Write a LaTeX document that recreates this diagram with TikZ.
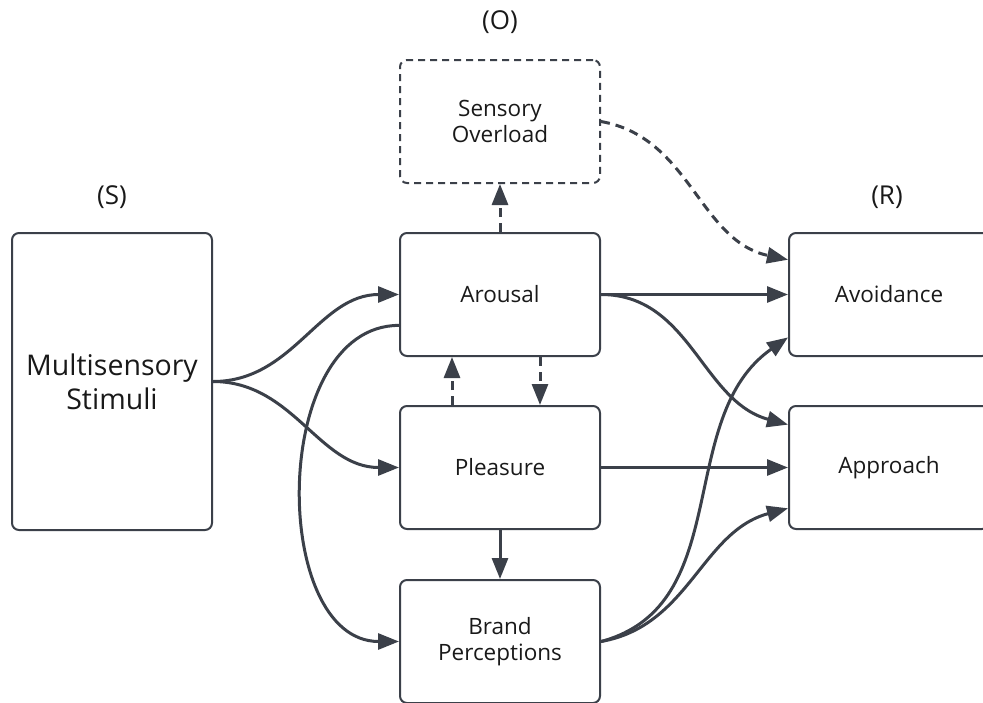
\documentclass[tikz,border=0pt]{standalone}
\usepackage{fontspec}
\setmainfont{Open Sans}
\usetikzlibrary{arrows.meta}
\definecolor{edge}{HTML}{3B4049}
\begin{document}
\begin{tikzpicture}[x=1pt, y=-1pt, >={Triangle[length=21pt,width=16pt]},
 box/.style={draw=edge, line width=2pt, rounded corners=7pt, minimum width=200pt, minimum height=123pt,
  align=center, inner sep=0pt, text=black!90, font=\fontsize{22.5}{26}\selectfont},
 dbox/.style={box, dash pattern=on 7pt off 5pt},
 conn/.style={draw=edge, line width=3pt, ->},
 dconn/.style={conn, dash pattern=on 9pt off 6pt},
 tag/.style={text=black!90, font=\fontsize{26}{30}\selectfont}]
\useasboundingbox (0,0) rectangle (983,702);
\node[tag] (tagS) at (112,197) {(S)};
\node[tag] (tagO) at (500,22) {(O)};
\node[tag] (tagR) at (887,197) {(R)};
\node[box, minimum height=297pt, font=\fontsize{28.5}{34}\selectfont] (stim) at (112,381.5) {Multisensory\\Stimuli};
\node[dbox] (over) at (500,121.5) {Sensory\\Overload};
\node[box] (arou) at (500,294.5) {Arousal};
\node[box] (plea) at (500,467.5) {Pleasure};
\node[box] (brand) at (500,641.5) {Brand\\Perceptions};
\node[box] (avoid) at (889,294.5) {Avoidance};
\node[box] (appr) at (889,467.5) {Approach};
% stimulus to organism
\draw[conn] (stim.east) to[out=0, in=180] (arou.west);
\draw[conn] (stim.east) to[out=0, in=180] (plea.west);
\draw[conn] (arou.197) to[out=180, in=180, looseness=1.05] (brand.west);
% within organism
\draw[dconn] (arou.north) -- (over.south);
\draw[dconn] ([xshift=-48pt]plea.north) -- ([xshift=-48pt]arou.south);
\draw[dconn] ([xshift=40pt]arou.south) -- ([xshift=40pt]plea.north);
\draw[conn] (plea.south) -- (brand.north);
% organism to response
\draw[dconn] (over.east) to[out=-10, in=168] (avoid.161);
\draw[conn] (arou.east) -- (avoid.west);
\draw[conn] (arou.east) to[out=0, in=165] (appr.157);
\draw[conn] (plea.east) -- (appr.west);
\draw[conn] (brand.east) to[out=15, in=215] (avoid.203);
\draw[conn] (brand.east) to[out=10, in=195] (appr.202);
\end{tikzpicture}
\end{document}
